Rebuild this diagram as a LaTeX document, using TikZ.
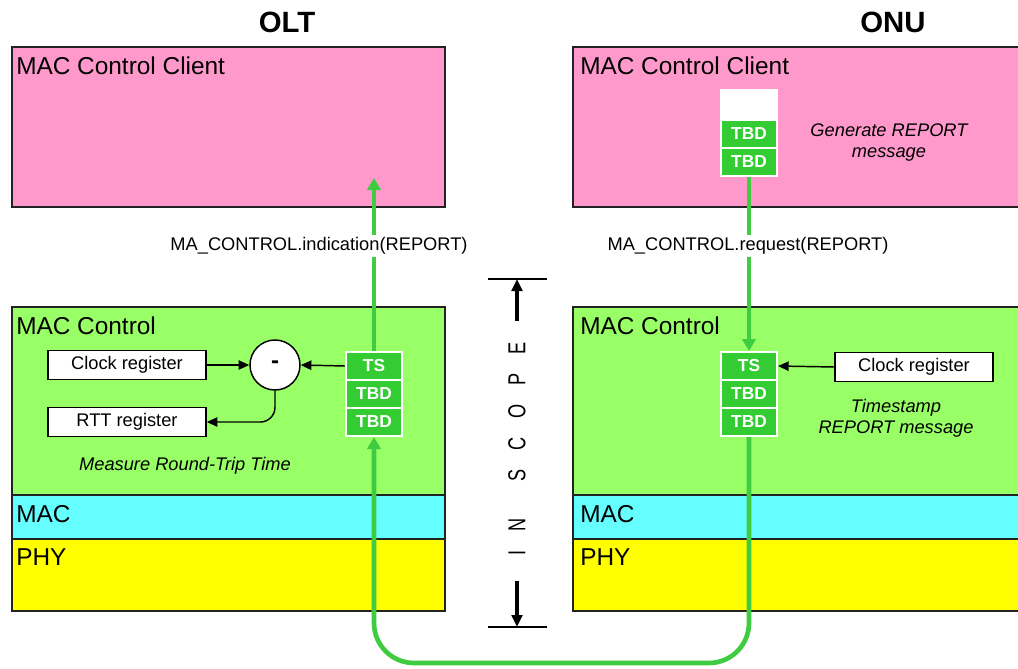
\documentclass[tikz,border=0pt]{standalone}
\usepackage{fontspec}
\setmainfont{Liberation Sans}
\usetikzlibrary{arrows.meta}
\definecolor{pinkc}{HTML}{FF99CC}
\definecolor{greenc}{HTML}{99FF66}
\definecolor{cyanc}{HTML}{66FFFF}
\definecolor{yellowc}{HTML}{FFFF00}
\definecolor{cellg}{HTML}{33CC33}
\definecolor{arrowg}{HTML}{40CC40}
\definecolor{edgec}{HTML}{222222}
\tikzset{
  layer/.style={draw=edgec, line width=1.1pt},
  lbl/.style={anchor=base west, inner sep=0pt, font=\fontsize{18.3}{22}\selectfont},
  title/.style={inner sep=0pt, font=\bfseries\fontsize{22}{26}\selectfont},
  cell/.style={fill=cellg, draw=white, line width=1.5pt, minimum width=42pt, minimum height=21pt, inner sep=0pt, text=white, font=\bfseries\fontsize{13}{15}\selectfont},
  blank/.style={fill=white, draw=white, line width=1.5pt, minimum width=42pt, minimum height=22.5pt, inner sep=0pt},
  reg/.style={fill=white, draw=black, line width=1.1pt, minimum width=118.5pt, minimum height=21.5pt, inner sep=0pt, font=\fontsize{13.7}{16}\selectfont},
  note/.style={font=\itshape\fontsize{13.7}{15.75}\selectfont, align=center, inner sep=0pt},
  sig/.style={fill=white, inner sep=2pt, font=\fontsize{13.7}{16}\selectfont},
  garrow/.style={draw=arrowg, line width=3.5pt, -{Triangle[length=9pt,width=10pt]}},
  barrow/.style={draw=black, line width=1.1pt, -{Triangle[length=8pt,width=7pt]}},
  scopeline/.style={draw=black, line width=1.5pt},
  scopearrow/.style={draw=black, line width=2.4pt, -{Triangle[length=9pt,width=8pt]}},
}
\begin{document}
\begin{tikzpicture}[x=0.75pt,y=-0.75pt]
\clip (0,0) rectangle (1018,668);
\fill[white] (0,0) rectangle (1018,668);

% titles
\node[title] (tolt) at (287,22) {OLT};
\node[title] (tonu) at (893,22) {ONU};

% OLT layers
\draw[layer, fill=pinkc] (12,47) rectangle (445,207);
\draw[layer, fill=greenc] (12,307) rectangle (445,495);
\draw[layer, fill=cyanc] (12,495) rectangle (445,539);
\draw[layer, fill=yellowc] (12,539) rectangle (445,611);
% ONU layers
\draw[layer, fill=pinkc] (573,47) rectangle (1040,207);
\draw[layer, fill=greenc] (573,307) rectangle (1040,495);
\draw[layer, fill=cyanc] (573,495) rectangle (1040,539);
\draw[layer, fill=yellowc] (573,539) rectangle (1040,611);

\node[lbl] (oltmcc) at (16,74) {MAC Control Client};
\node[lbl] (oltmc) at (16,334) {MAC Control};
\node[lbl] (oltmac) at (16,522) {MAC};
\node[lbl] (oltphy) at (16,565) {PHY};
\node[lbl] (onumcc) at (580,74) {MAC Control Client};
\node[lbl] (onumc) at (580,334) {MAC Control};
\node[lbl] (onumac) at (580,522) {MAC};
\node[lbl] (onuphy) at (580,565) {PHY};

% OLT stack
\node[cell] (oltts) at (374,366) {TS};
\node[cell] (oltt1) at (374,394) {TBD};
\node[cell] (oltt2) at (374,422) {TBD};
% ONU lower stack
\node[cell] (onuts) at (749,366) {TS};
\node[cell] (onut1) at (749,394) {TBD};
\node[cell] (onut2) at (749,422) {TBD};
% ONU upper stack
\node[blank] (onuw) at (749,105) {};
\node[cell] (onub1) at (749,134) {TBD};
\node[cell] (onub2) at (749,162) {TBD};

% registers
\node[reg] (clk) at (127,365) {Clock register};
\node[reg] (rtt) at (127,422) {RTT register};
\node[reg] (onuclk) at (914,367) {Clock register};
\node[circle, draw=black, line width=1.1pt, fill=white, minimum size=37.5pt, inner sep=0pt, font=\bfseries\fontsize{18}{20}\selectfont] (minus) at (275,365) {-};

\draw[barrow] (clk.east) -- (minus.west);
\draw[barrow] (oltts.west) -- (minus.east);
\draw[barrow, rounded corners=11pt] (minus.south) |- (rtt.east);
\draw[barrow] (onuclk.west) -- (onuts.east);

% notes
\node[note] (nrtt) at (185,466) {Measure Round-Trip Time};
\node[note] (ngen) at (889,143) {Generate REPORT\\message};
\node[note] (nts) at (896,418) {Timestamp\\REPORT message};

% green signal paths
\coordinate (oltin) at (374,178);
\draw[garrow] (oltts.north) -- (oltin);
\draw[garrow] (onub2.south) -- (onuts.north);
\coordinate (loopR) at (749,663);
\coordinate (loopL) at (374,663);
\draw[garrow, rounded corners=30pt] (onut2.south) -- (loopR) -- (loopL) -- (oltt2.south);

\node[sig] (sind) at (319,246) {MA\_CONTROL.indication(REPORT)};
\node[sig] (sreq) at (748,246) {MA\_CONTROL.request(REPORT)};

% in scope marker
\coordinate (stl) at (488,279);
\coordinate (str) at (547,279);
\coordinate (sbl) at (488,627);
\coordinate (sbr) at (547,627);
\coordinate (sta) at (517,321);
\coordinate (stt) at (517,279);
\coordinate (sba) at (517,581);
\coordinate (sbt) at (517,627);
\draw[scopeline] (stl) -- (str);
\draw[scopeline] (sbl) -- (sbr);
\draw[scopearrow] (sta) -- (stt);
\draw[scopearrow] (sba) -- (sbt);
\node[rotate=90, inner sep=0pt, font=\fontsize{16}{18}\selectfont] (scope) at (517,449)
  {\scalebox{0.85}[1.15]{I\hspace{16.5pt}N\hspace{33pt}S\hspace{16.5pt}C\hspace{16.5pt}O\hspace{16.5pt}P\hspace{16.5pt}E}};
\end{tikzpicture}
\end{document}
